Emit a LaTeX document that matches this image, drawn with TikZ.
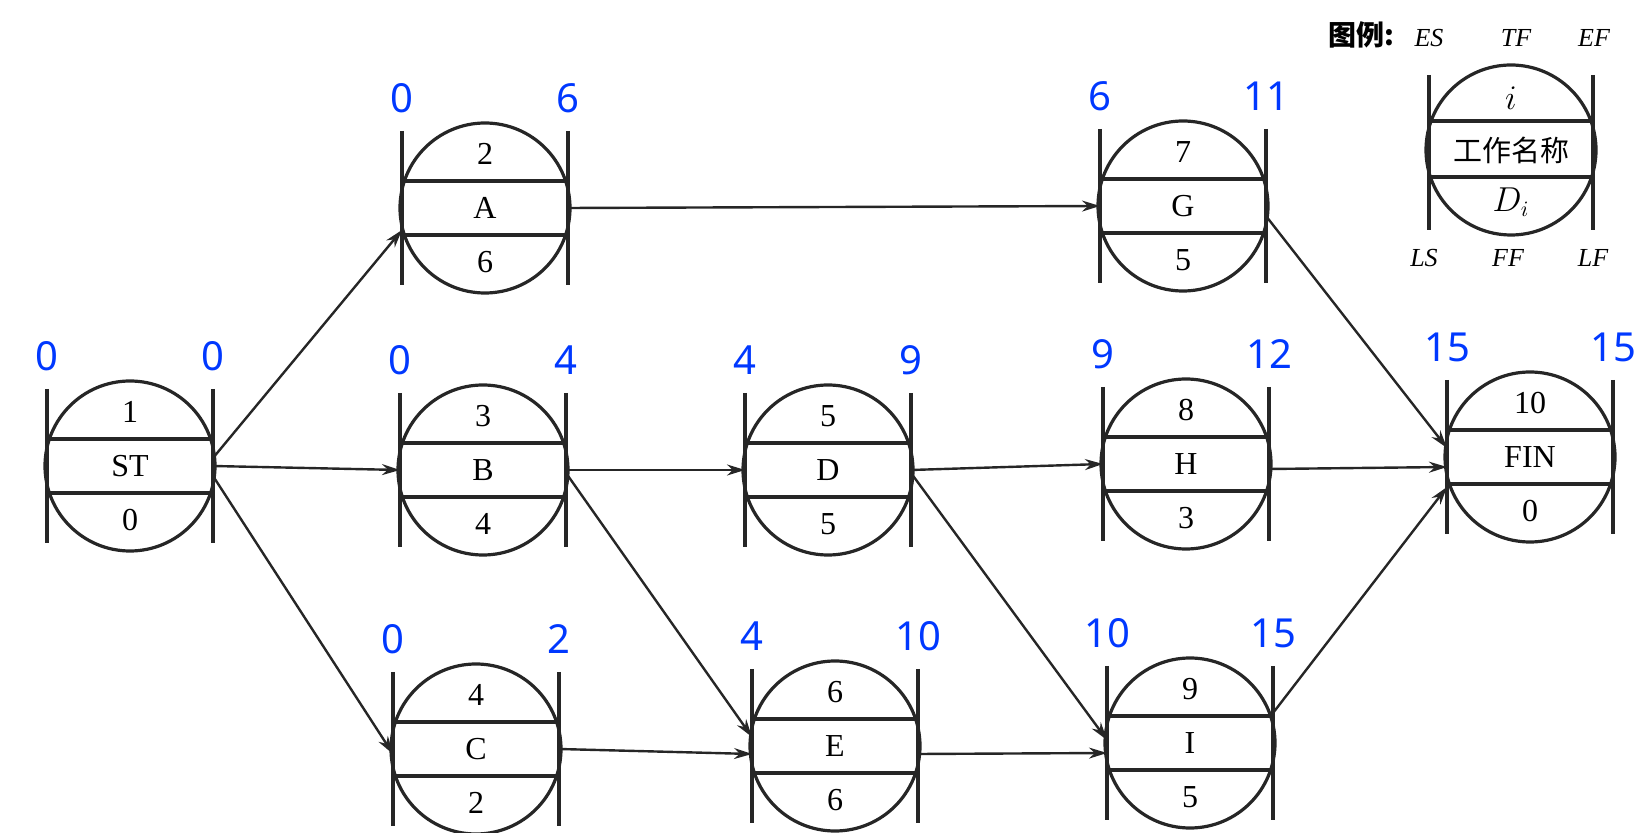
\documentclass[tikz,border=0pt]{standalone}
\usepackage{fontspec}
\setmainfont{Liberation Serif}
\newfontfamily\numfont{Noto Sans}
\newfontfamily\cjk{Noto Sans CJK SC}
\usepackage{xcolor}
\usepackage{tikz}
\usetikzlibrary{calc, arrows.meta}
\definecolor{timeblue}{RGB}{0,56,255}
\tikzset{
    event/.style={circle, draw=black!85, line width=1.6pt, minimum size=85pt, inner sep=0pt},
    bar/.style={draw=black!85, line width=1.6pt},
    celltext/.style={font=\fontsize{16}{19}\selectfont, inner sep=0pt},
    timelabel/.style={font=\numfont\fontsize{20}{24}\selectfont, text=timeblue, inner sep=0pt},
    keytext/.style={font=\itshape\fontsize{13}{16}\selectfont, inner sep=0pt},
    flow/.style={draw=black!85, line width=1.2pt, -{Stealth[length=9pt, width=5.5pt]}}
}

\begin{document}
\begin{tikzpicture}[x=0.5pt, y=-0.5pt]
            \useasboundingbox (0,0) rectangle (1639,833);

            \foreach \n/\x/\y/\num/\lab/\dur/\es/\ef in {
                st/130/466/1/ST/0/0/0,
                a/485/208/2/A/6/0/6,
                b/483/470/3/B/4/0/4,
                c/476/749/4/C/2/0/2,
                d/828/470/5/D/5/4/9,
                e/835/746/6/E/6/4/10,
                g/1183/206/7/G/5/6/11,
                h/1186/464/8/H/3/9/12,
                i/1190/743/9/I/5/10/15,
                fin/1530/457/10/FIN/0/15/15} {
                \node[event] (\n) at (\x,\y) {};
                \coordinate (\n-w) at ($(\n)+(-83,0)$);
                \coordinate (\n-e) at ($(\n)+(83,0)$);
                \draw[bar] ($(\n-w)+(0,-77)$) -- ($(\n-w)+(0,77)$);
                \draw[bar] ($(\n-e)+(0,-77)$) -- ($(\n-e)+(0,77)$);
                \draw[bar] ($(\n-w)+(0,-27)$) -- ($(\n-e)+(0,-27)$);
                \draw[bar] ($(\n-w)+(0,27)$) -- ($(\n-e)+(0,27)$);
                \node[celltext] (\n-num) at ($(\n)+(0,-54)$) {\num};
                \node[celltext] (\n-lab) at (\n) {\lab};
                \node[celltext] (\n-dur) at ($(\n)+(0,54)$) {\dur};
                \node[timelabel] (\n-es) at ($(\n-w)+(0,-110)$) {\es};
                \node[timelabel] (\n-ef) at ($(\n-e)+(0,-110)$) {\ef};
            }

            \draw[flow] ([yshift=4pt]st-e) -- ([yshift=-11pt]a-w);
            \draw[flow] (st-e) -- (b-w);
            \draw[flow] ([yshift=-5pt]st-e) -- ([yshift=-2.5pt]c-w);
            \draw[flow] (a-e) -- (g-w);
            \draw[flow] (b-e) -- (d-w);
            \draw[flow] ([yshift=-1.5pt]b-e) -- ([yshift=4.5pt]e-w);
            \draw[flow] (c-e) -- ([yshift=-4pt]e-w);
            \draw[flow] (d-e) -- (h-w);
            \draw[flow] ([yshift=-1.5pt]d-e) -- ([yshift=1.5pt]i-w);
            \draw[flow] ([yshift=-4pt]e-e) -- ([yshift=-5pt]i-w);
            \draw[flow] ([yshift=-5pt]g-e) -- ([yshift=4.5pt]fin-w);
            \draw[flow] ([yshift=-2.5pt]h-e) -- ([yshift=-5pt]fin-w);
            \draw[flow] ([yshift=15pt]i-e) -- ([yshift=-15pt]fin-w);

            % legend
            \node[event] (key) at (1511,150) {};
            \coordinate (key-w) at ($(key)+(-82,0)$);
            \coordinate (key-e) at ($(key)+(82,0)$);
            \draw[bar] ($(key-w)+(0,-75)$) -- ($(key-w)+(0,80)$);
            \draw[bar] ($(key-e)+(0,-75)$) -- ($(key-e)+(0,80)$);
            \draw[bar] ($(key-w)+(0,-29)$) -- ($(key-e)+(0,-29)$);
            \draw[bar] ($(key-w)+(0,27)$) -- ($(key-e)+(0,27)$);
            \node[celltext] (key-num) at ($(key)+(0,-52)$) {$i$};
            \node[celltext, font=\cjk\fontsize{14.5}{17}\selectfont] (key-lab) at (key) {工作名称};
            \node[celltext] (key-dur) at ($(key)+(0,52)$) {$D_i$};
            \node[keytext, font=\cjk\bfseries\fontsize{14}{17}\selectfont] (key-title) at (1361,35) {图例:};
            \node[keytext] (key-es) at (1429,38) {ES};
            \node[keytext] (key-tf) at (1516,38) {TF};
            \node[keytext] (key-ef) at (1594,38) {EF};
            \node[keytext] (key-ls) at (1424,258) {LS};
            \node[keytext] (key-ff) at (1508,258) {FF};
            \node[keytext] (key-lf) at (1593,258) {LF};
        \end{tikzpicture}
\end{document}
